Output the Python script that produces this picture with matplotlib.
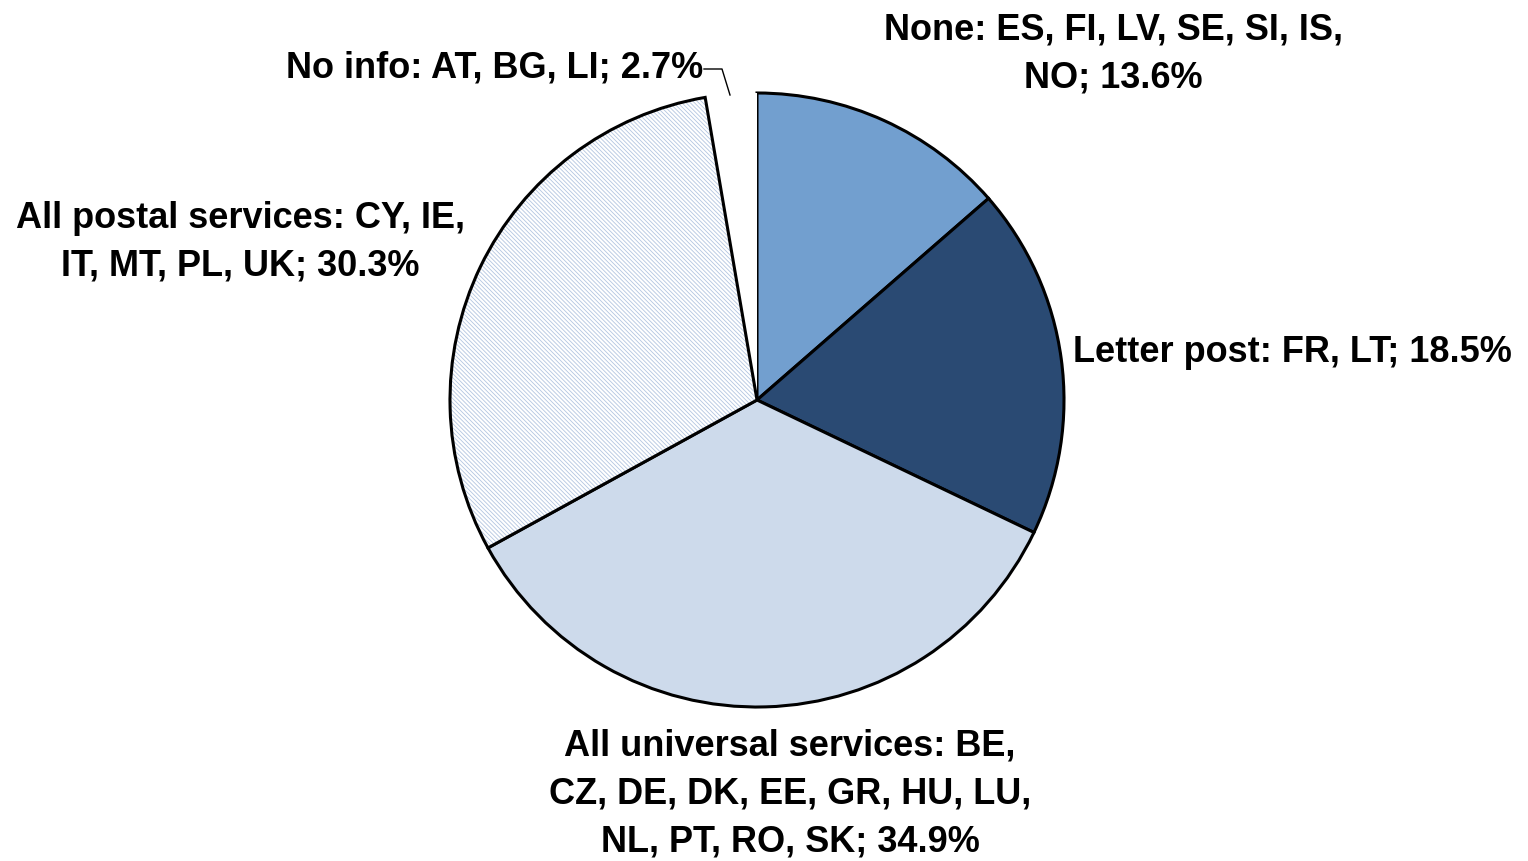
import matplotlib.pyplot as plt
from matplotlib.patches import Wedge

# slice data, clockwise from 12 o'clock
names = ['None: ES, FI, LV, SE, SI, IS,\nNO', 'Letter post: FR, LT',
         'All universal services: BE,\nCZ, DE, DK, EE, GR, HU, LU,\nNL, PT, RO, SK',
         'All postal services: CY, IE,\nIT, MT, PL, UK', 'No info: AT, BG, LI']
shares = [13.6, 18.5, 34.9, 30.3, 2.7]
colors = ['#729fcf', '#2a4a73', '#cddaeb', 'white', 'white']

plt.rcParams['font.family'] = ['Liberation Sans', 'DejaVu Sans']
plt.rcParams['hatch.linewidth'] = 0.6

fig = plt.figure(figsize=(15.28, 8.61), dpi=100)
ax = fig.add_axes([0, 0, 1, 1])
ax.axis('off')

wedges, _ = ax.pie(shares, colors=colors, startangle=90, counterclock=False,
                   center=(757, 461), radius=307,
                   wedgeprops=dict(edgecolor='black', linewidth=2.2))
ax.set_xlim(0, 1528)
ax.set_ylim(0, 861)
ax.set_aspect('equal')

# hatched slice
w = wedges[3]
w.set_hatch('\\' * 8)
w.set_edgecolor('#b3c5e0')
w.set_linewidth(0)
ax.add_patch(Wedge(w.center, w.r, w.theta1, w.theta2, fill=False,
                   edgecolor='black', linewidth=2.2))
# no info slice has no outline
wedges[4].set_linewidth(0)

labels = [f'{n}; {v}%' for n, v in zip(names, shares)]
kw = dict(fontsize=26, fontweight='bold', linespacing=1.47)
ax.text(1113, 861 - 54, labels[0], ha='center', va='center', **kw)
ax.text(1073, 861 - 352, labels[1], ha='left', va='center', **kw)
ax.text(790, 861 - 794, labels[2], ha='center', va='center', **kw)
ax.text(240, 861 - 242, labels[3], ha='center', va='center', **kw)
ax.text(703, 861 - 68, labels[4], ha='right', va='center', **kw)
ax.plot([704, 722, 730], [861 - 69, 861 - 69, 861 - 95], color='black', lw=1)

fig.savefig('out.png', dpi=100)
